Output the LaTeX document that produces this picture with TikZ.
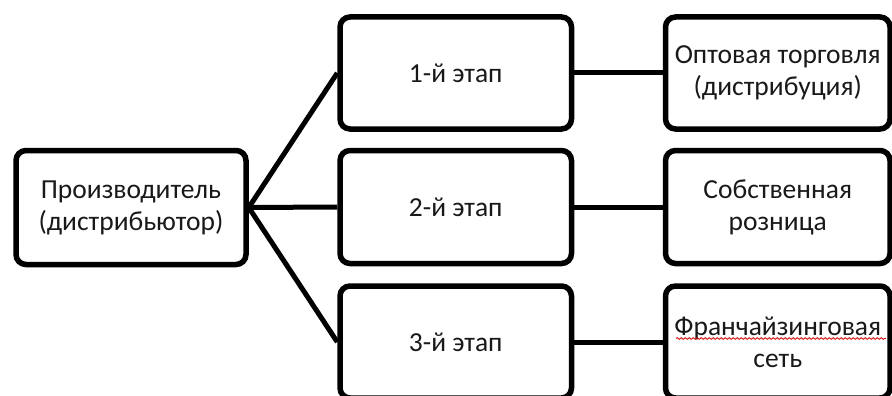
\documentclass[tikz,border=0pt]{standalone}
\usepackage{fontspec}
\setmainfont{Carlito}
\usetikzlibrary{decorations.pathmorphing}
\tikzset{
  stage/.style={draw=black, line width=5.5pt, rounded corners=10pt, fill=white,
    align=center, inner sep=0pt, font=\fontsize{27.5}{32}\selectfont, text=black!90},
  link/.style={draw=black, line width=5pt},
}
\begin{document}
\begin{tikzpicture}[x=1pt,y=-1pt]
\useasboundingbox (0,0) rectangle (892,396);
\clip (0,0) rectangle (892,396);
% producer
\node[stage, minimum width=230pt, minimum height=114pt] (prod) at (131,207.5)
  {Производитель\\(дистрибьютор)};
% stages
\node[stage, minimum width=231.5pt, minimum height=112pt] (s1) at (455.75,73) {1-й этап};
\node[stage, minimum width=231.5pt, minimum height=113pt] (s2) at (455.75,207) {2-й этап};
\node[stage, minimum width=231.5pt, minimum height=112pt] (s3) at (455.75,342) {3-й этап};
% channels
\node[stage, minimum width=224.5pt, minimum height=112pt] (c1) at (777.75,73)
  {Оптовая торговля\\(дистрибуция)};
\node[stage, minimum width=224.5pt, minimum height=113pt] (c2) at (777.75,207)
  {Собственная\\розница};
\node[stage, minimum width=224.5pt, minimum height=112pt] (c3) at (777.75,342)
  {Франчайзинговая\\сеть};
% connectors
\draw[link] (prod.east) -- (s1.west);
\draw[link] (prod.east) -- (s2.west);
\draw[link] (prod.east) -- (s3.west);
\draw[link] (s1.east) -- (c1.west);
\draw[link] (s2.east) -- (c2.west);
\draw[link] (s3.east) -- (c3.west);
% spell-check underline
\coordinate (wa) at (676,338.5);
\coordinate (wb) at (886,338.5);
\draw[red!85!black, line width=0.8pt, decorate,
  decoration={snake, amplitude=0.9pt, segment length=4pt}] (wa) -- (wb);
\end{tikzpicture}
\end{document}
